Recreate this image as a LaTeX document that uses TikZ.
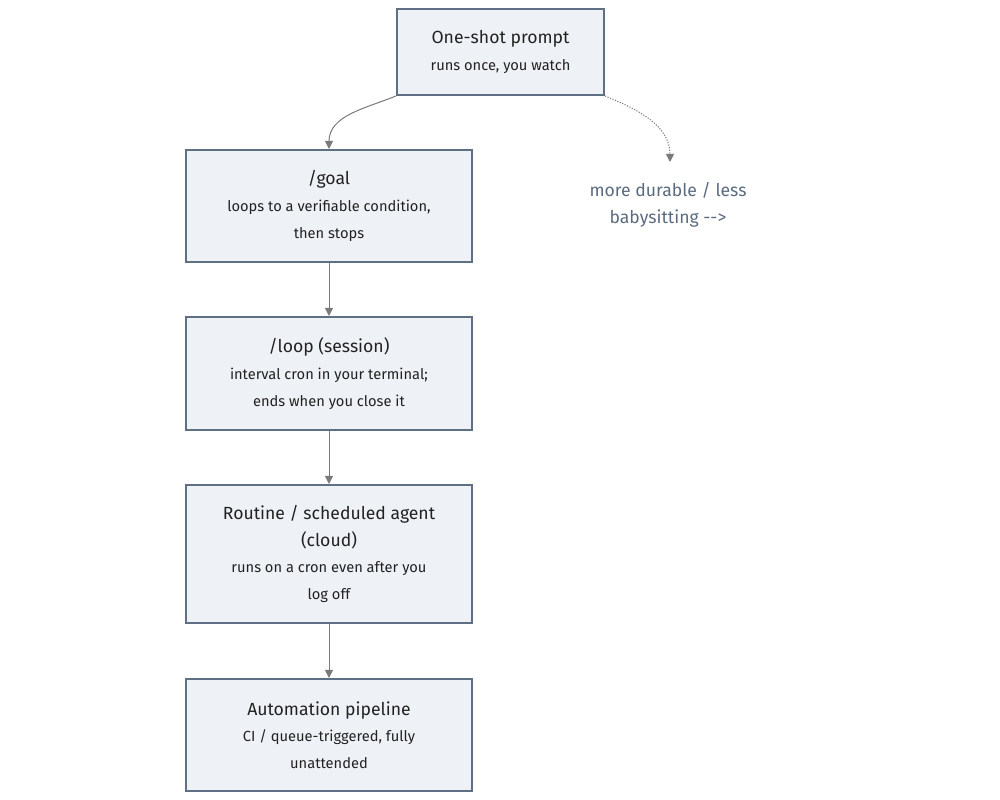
\documentclass[tikz,border=0pt]{standalone}
\usepackage{fontspec}
\setmainfont{Fira Sans}
\usepackage{tikz}
\usetikzlibrary{arrows.meta}
\definecolor{boxfill}{HTML}{EEF1F6}
\definecolor{boxline}{HTML}{5F6F84}
\definecolor{arrowgray}{HTML}{7A7A7A}
\definecolor{notegray}{HTML}{5B6B7F}
\definecolor{textdark}{HTML}{222222}

\begin{document}
\begin{tikzpicture}[x=0.75pt, y=0.75pt,
  stage/.style={draw=boxline, fill=boxfill, line width=1.5pt, minimum width=214.5pt, align=center, text=textdark, font=\fontsize{11}{20}\selectfont},
  flow/.style={-{Triangle[length=6pt,width=6pt]}, arrowgray, line width=0.75pt},
  hint/.style={flow, dash pattern=on 0.9pt off 1.1pt}]
  \useasboundingbox (0,0) rectangle (1000,800);
  \node[stage, minimum width=155.25pt, minimum height=64.5pt] (oneshot) at (500.5,748) {{\fontsize{13.2}{20}\selectfont One-shot prompt}\\runs once, you watch};
  \node[stage, minimum height=84pt] (goal) at (329,594) {{\fontsize{13.2}{20}\selectfont /goal}\\loops to a verifiable condition,\\then stops};
  \node[stage, minimum height=84.75pt] (loop) at (329,426.5) {{\fontsize{13.2}{20}\selectfont /loop (session)}\\interval cron in your terminal;\\ends when you close it};
  \node[stage, minimum height=103.5pt] (routine) at (329,246) {{\fontsize{13.2}{20}\selectfont Routine / scheduled agent}\\{\fontsize{13.2}{20}\selectfont (cloud)}\\runs on a cron even after you\\log off};
  \node[stage, minimum height=84pt] (pipeline) at (329,65) {{\fontsize{13.2}{20}\selectfont Automation pipeline}\\CI / queue-triggered, fully\\unattended};
  \node[align=center, text=notegray, font=\fontsize{13.2}{20}\selectfont] (durable) at (668,595) {more durable / less\\babysitting -{}-{}>};
  \coordinate (durabletop) at (670,638);
  \draw[flow] (oneshot.south west) to[out=202,in=90] (goal.north);
  \draw[hint] (oneshot.south east) to[out=-22,in=90] (durabletop);
  \draw[flow] (goal.south) -- (loop.north);
  \draw[flow] (loop.south) -- (routine.north);
  \draw[flow] (routine.south) -- (pipeline.north);
\end{tikzpicture}
\end{document}
